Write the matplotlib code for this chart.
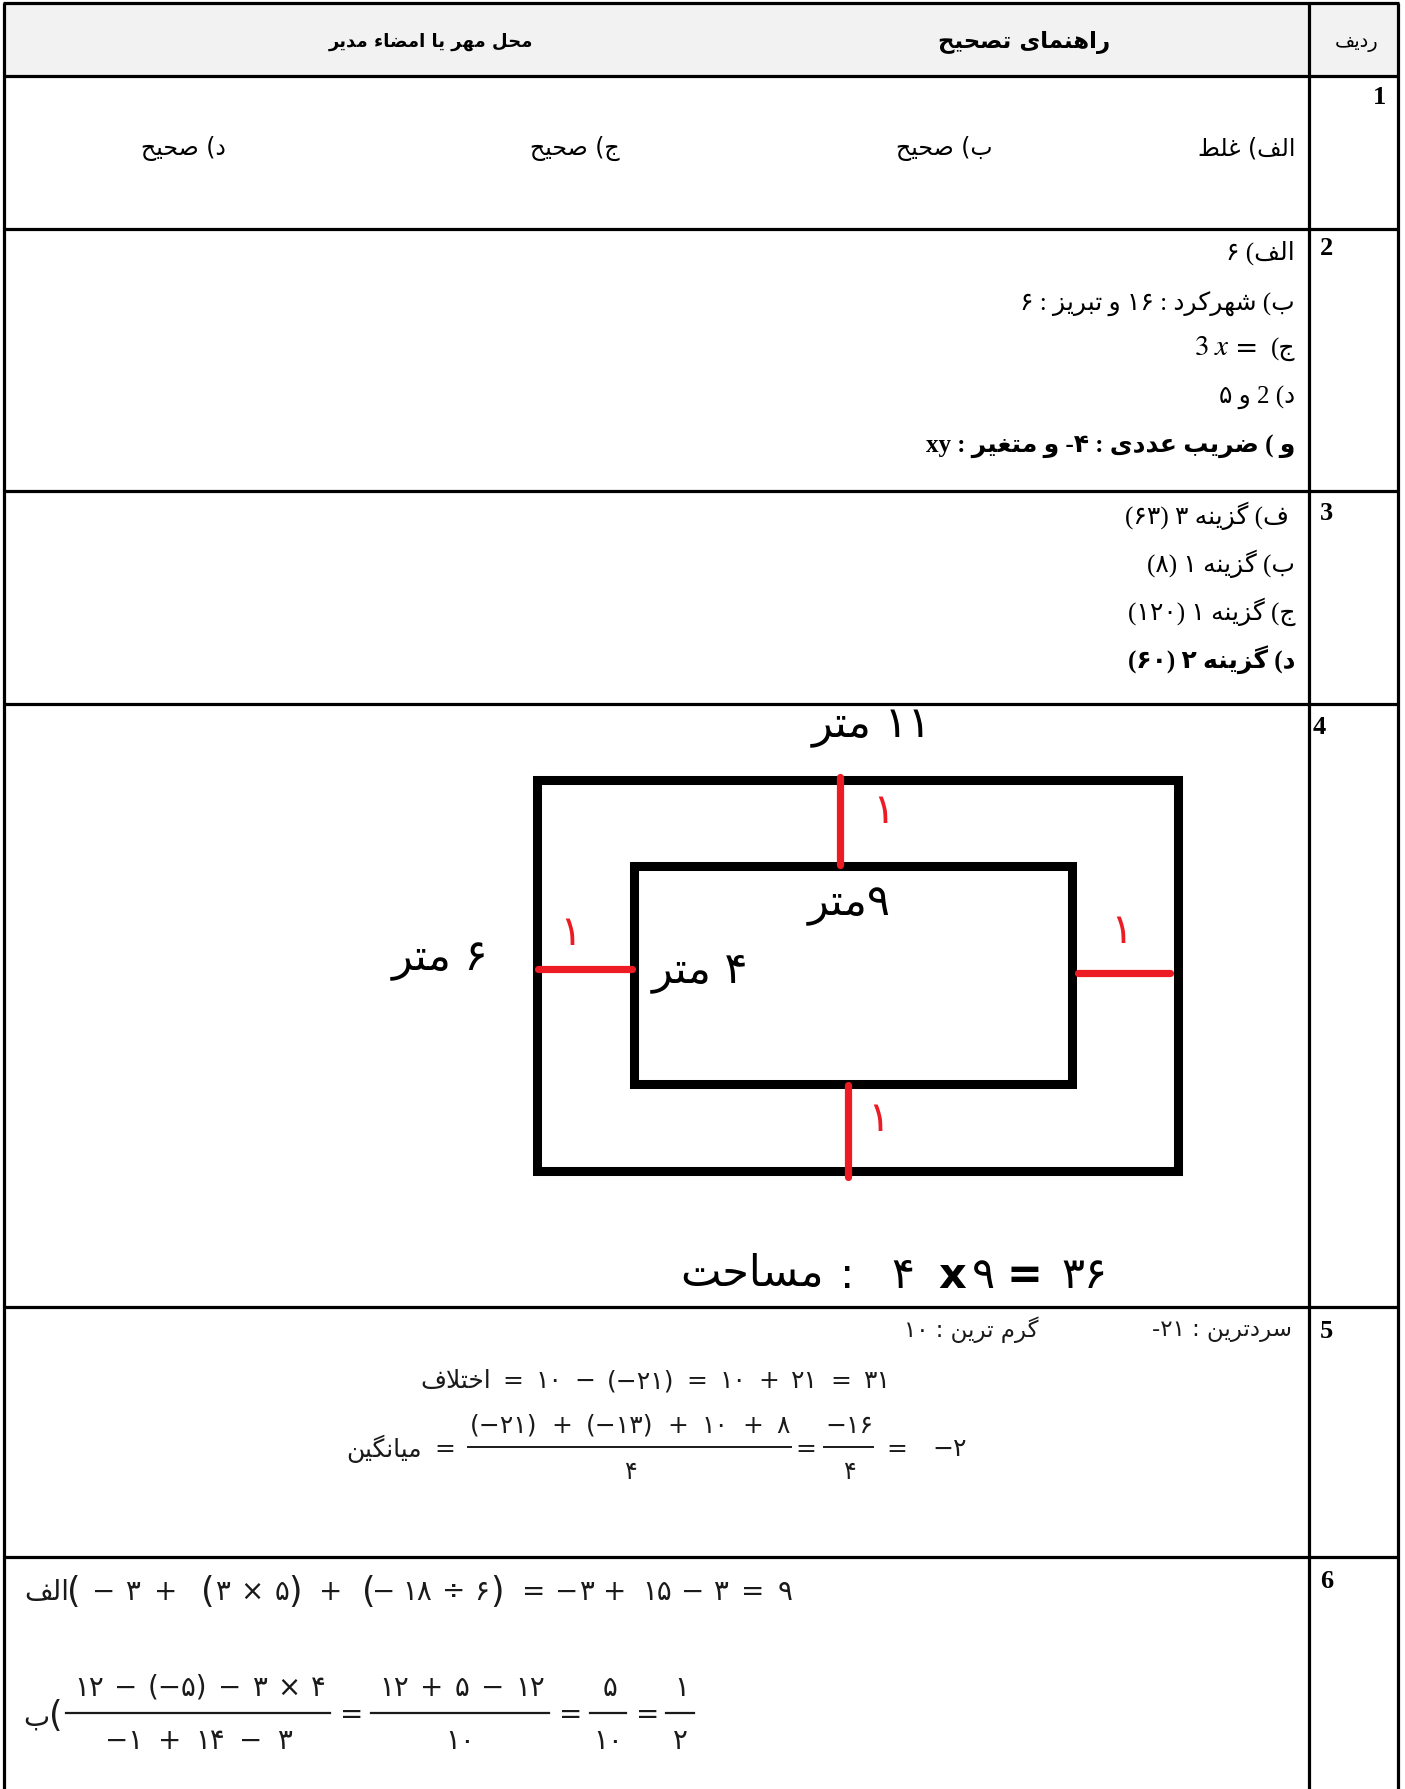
import matplotlib
matplotlib.use("Agg")
import matplotlib.pyplot as plt
from matplotlib.patches import Rectangle

# ---------------- data ----------------
header_titles = ["ردیف", "راهنمای تصحیح", "محل مهر یا امضاء مدیر"]
row_numbers = ["1", "2", "3", "4", "5", "6"]
row1_answers = ["الف) غلط", "ب) صحیح", "ج) صحیح", "د) صحیح"]
row2_lines = ["الف) ۶", "ب) شهرکرد : ۱۶ و تبریز : ۶", "ج)", "د) 2 و ۵", "و ) ضریب عددی : ۴- و متغیر : xy"]
row2_math = r"$3\;x$"
row3_lines = [" ف) گزینه ۳ (۶۳)", "ب) گزینه ۱ (۸)", "ج) گزینه ۱ (۱۲۰)", "د) گزینه ۲ (۶۰)"]
fig_labels = ["۱۱ متر", "۹متر", "۶ متر", "۴ متر"]
fig_red = ["۱", "۱", "۱", "۱"]
area_word = "مساحت"
area_tokens = [":", "۴", "x", "۹", "=", "۳۶"]
row5_line1 = ["سردترین : ۲۱-", "گرم ترین : ۱۰"]
row5_diff_word = "اختلاف"
row5_diff_tokens = ["=", "۱۰", "−", "(−۲۱)", "=", "۱۰", "+", "۲۱", "=", "۳۱"]
row5_mean_word = "میانگین"
row5_num1_tokens = ["(−۲۱)", "+", "(−۱۳)", "+", "۱۰", "+", "۸"]
row5_num2 = "−۱۶"
row5_den = ["۴", "۴"]
row5_result_tokens = ["=", "−۲"]
row6_label = ["الف", "ب"]
row6_line1_tokens = ["(", "−", "۳", "+", "(", "۳", "×", "۵", ")", "+", "(", "−", "۱۸", "÷", "۶", ")",
                     "=", "−", "۳", "+", "۱۵", "−", "۳", "=", "۹"]
row6_num_tokens = [["۱۲", "−", "(−۵)", "−", "۳", "×", "۴"], ["۱۲", "+", "۵", "−", "۱۲"], ["۵"], ["۱"]]
row6_den_tokens = [["−۱", "+", "۱۴", "−", "۳"], ["۱۰"], ["۱۰"], ["۲"]]

# ---------------- Arabic shaping helpers ----------------
FORMS = {
    '\u0621': ('\uFE80', None, None, None),
    '\u0622': ('\uFE81', '\uFE82', None, None),
    '\u0623': ('\uFE83', '\uFE84', None, None),
    '\u0627': ('\uFE8D', '\uFE8E', None, None),
    '\u0628': ('\uFE8F', '\uFE90', '\uFE91', '\uFE92'),
    '\u062A': ('\uFE95', '\uFE96', '\uFE97', '\uFE98'),
    '\u062B': ('\uFE99', '\uFE9A', '\uFE9B', '\uFE9C'),
    '\u062C': ('\uFE9D', '\uFE9E', '\uFE9F', '\uFEA0'),
    '\u062D': ('\uFEA1', '\uFEA2', '\uFEA3', '\uFEA4'),
    '\u062E': ('\uFEA5', '\uFEA6', '\uFEA7', '\uFEA8'),
    '\u062F': ('\uFEA9', '\uFEAA', None, None),
    '\u0630': ('\uFEAB', '\uFEAC', None, None),
    '\u0631': ('\uFEAD', '\uFEAE', None, None),
    '\u0632': ('\uFEAF', '\uFEB0', None, None),
    '\u0633': ('\uFEB1', '\uFEB2', '\uFEB3', '\uFEB4'),
    '\u0634': ('\uFEB5', '\uFEB6', '\uFEB7', '\uFEB8'),
    '\u0635': ('\uFEB9', '\uFEBA', '\uFEBB', '\uFEBC'),
    '\u0636': ('\uFEBD', '\uFEBE', '\uFEBF', '\uFEC0'),
    '\u0637': ('\uFEC1', '\uFEC2', '\uFEC3', '\uFEC4'),
    '\u0638': ('\uFEC5', '\uFEC6', '\uFEC7', '\uFEC8'),
    '\u0639': ('\uFEC9', '\uFECA', '\uFECB', '\uFECC'),
    '\u063A': ('\uFECD', '\uFECE', '\uFECF', '\uFED0'),
    '\u0641': ('\uFED1', '\uFED2', '\uFED3', '\uFED4'),
    '\u0642': ('\uFED5', '\uFED6', '\uFED7', '\uFED8'),
    '\u0644': ('\uFEDD', '\uFEDE', '\uFEDF', '\uFEE0'),
    '\u0645': ('\uFEE1', '\uFEE2', '\uFEE3', '\uFEE4'),
    '\u0646': ('\uFEE5', '\uFEE6', '\uFEE7', '\uFEE8'),
    '\u0647': ('\uFEE9', '\uFEEA', '\uFEEB', '\uFEEC'),
    '\u0648': ('\uFEED', '\uFEEE', None, None),
    '\u067E': ('\uFB56', '\uFB57', '\uFB58', '\uFB59'),
    '\u0686': ('\uFB7A', '\uFB7B', '\uFB7C', '\uFB7D'),
    '\u0698': ('\uFB8A', '\uFB8B', None, None),
    '\u06A9': ('\uFB8E', '\uFB8F', '\uFB90', '\uFB91'),
    '\u06AF': ('\uFB92', '\uFB93', '\uFB94', '\uFB95'),
    '\u06CC': ('\uFBFC', '\uFBFD', '\uFBFE', '\uFBFF'),
}
LAM_ALEF = {'\u0627': ('\uFEFB', '\uFEFC'), '\u0622': ('\uFEF5', '\uFEF6'),
            '\u0623': ('\uFEF7', '\uFEF8')}
MIRROR = {'(': ')', ')': '('}


def _jn(c):
    f = FORMS.get(c)
    return f is not None and f[2] is not None


def _jp(c):
    f = FORMS.get(c)
    return f is not None and f[1] is not None


def shape(s):
    ch = list(s)
    n = len(ch)
    res = []
    i = 0
    while i < n:
        c = ch[i]
        if c not in FORMS:
            res.append(c)
            i += 1
            continue
        prev = ch[i - 1] if i > 0 else None
        cp = prev is not None and _jn(prev) and _jp(c)
        if c == '\u0644' and i + 1 < n and ch[i + 1] in LAM_ALEF:
            iso, fin = LAM_ALEF[ch[i + 1]]
            res.append(fin if cp else iso)
            i += 2
            continue
        nxt = ch[i + 1] if i + 1 < n else None
        cn = nxt is not None and _jn(c) and _jp(nxt)
        f = FORMS[c]
        if cp and cn:
            g = f[3]
        elif cp:
            g = f[1]
        elif cn:
            g = f[2]
        else:
            g = f[0]
        res.append(g)
        i += 1
    return ''.join(res)


def _ltr(c):
    return (c.isascii() and c.isalnum()) or ('\u06F0' <= c <= '\u06F9')


def rtl(s):
    s = shape(s)
    runs = []
    cur = ''
    cl = None
    for c in s:
        l = _ltr(c)
        if cl is None or l == cl:
            cur += c
            cl = l
        else:
            runs.append((cur, cl))
            cur = c
            cl = l
    runs.append((cur, cl))
    out = ''
    for t, l in reversed(runs):
        if l:
            out += t
        else:
            out += ''.join(MIRROR.get(c, c) for c in reversed(t))
    return out


def ar(word):
    return shape(word)[::-1]


# ---------------- figure ----------------
W, H = 1405, 1790
fig = plt.figure(figsize=(W / 100, H / 100), dpi=100)
ax = fig.add_axes([0, 0, 1, 1])
ax.set_xlim(0, W)
ax.set_ylim(H, 0)
ax.axis('off')
renderer = fig.canvas.get_renderer()

SANS = ['DejaVu Sans']
SERIF = ['Liberation Serif', 'DejaVu Sans']


def spread(tokens, x0, x1, y, fs, **kw):
    """Lay tokens out left-to-right, evenly spaced, so they fill [x0, x1]."""
    texts = [ax.text(0, y, t, ha='left', va='center', fontsize=fs, **kw) for t in tokens]
    widths = [t.get_window_extent(renderer=renderer).width for t in texts]
    if len(tokens) == 1:
        texts[0].set_x((x0 + x1) / 2 - widths[0] / 2)
        return
    gap = (x1 - x0 - sum(widths)) / (len(tokens) - 1)
    x = x0
    for t, w in zip(texts, widths):
        t.set_x(x)
        x += w + gap


def place(tokens, centers, y, fs, paren_fs=None, **kw):
    for t, xc in zip(tokens, centers):
        size = paren_fs if (paren_fs and t in '()') else fs
        ax.text(xc, y, t, ha='center', va='center', fontsize=size, **kw)


# table frame
L, R, C = 4, 1398, 1309
rows_y = [4, 77, 230, 492, 705, 1308, 1558]
ax.add_patch(Rectangle((L, 4), R - L, 73, facecolor='#f2f2f2', edgecolor='none', zorder=0))
for y in rows_y:
    ax.plot([L - 1, R + 1], [y, y], color='black', lw=2.3, solid_capstyle='butt', zorder=3)
for x in [L, C, R]:
    ax.plot([x, x], [4, H], color='black', lw=2.3, solid_capstyle='butt', zorder=3)

# header
ax.text(1357, 42, rtl(header_titles[0]), ha='center', va='center', fontsize=14, family=SANS)
ax.text(1024, 42, rtl(header_titles[1]), ha='center', va='center', fontsize=16.5, family=SANS, fontweight='bold')
ax.text(431, 42, rtl(header_titles[2]), ha='center', va='center', fontsize=13, family=SANS, fontweight='bold')

# row numbers
num_pos = [(1386, 97, 'right'), (1320, 248, 'left'), (1320, 513, 'left'),
           (1313, 727, 'left'), (1320, 1331, 'left'), (1320, 1582, 'left')]
for lab, (x, y, ha) in zip(row_numbers, num_pos):
    ax.text(x, y, lab, ha=ha, va='center', fontsize=19, family=['Liberation Serif'], fontweight='bold')

# row 1
r1_right = [1295, 993, 620, 226]
for t, x in zip(row1_answers, r1_right):
    ax.text(x, 148, rtl(t), ha='right', va='center', fontsize=17, family=SANS)

# row 2
r2_y = [253, 304, 349, 397, 446]
for i, (t, y) in enumerate(zip(row2_lines, r2_y)):
    ax.text(1295, y, rtl(t), ha='right', va='center', fontsize=18, family=SERIF,
            fontweight='bold' if i == 4 else 'normal')
ax.text(1247, 349, '=', ha='center', va='center', fontsize=20, family=['DejaVu Serif'])
ax.text(1229, 347, row2_math, ha='right', va='center', fontsize=21, math_fontfamily='stix')

# row 3
r3_y = [516, 564, 612, 660]
for i, (t, y) in enumerate(zip(row3_lines, r3_y)):
    ax.text(1295, y, rtl(t), ha='right', va='center', fontsize=18, family=SERIF,
            fontweight='bold' if i == 3 else 'normal')

# row 4 drawing
RED = '#ed1c24'
ax.add_patch(Rectangle((537, 780.5), 1177.5 - 537, 1172 - 780.5, fill=False, edgecolor='black', lw=6.5, joinstyle='miter', zorder=2))
ax.add_patch(Rectangle((634, 866.5), 1071.5 - 634, 1084.5 - 866.5, fill=False, edgecolor='black', lw=6.5, joinstyle='miter', zorder=2))
red_segs = [((840, 840), (778, 866)), ((848, 848), (1086, 1178)),
            ((538, 632), (970, 970)), ((1078, 1170), (974, 974))]
for xs, ys in red_segs:
    ax.plot(xs, ys, color=RED, lw=5.2, solid_capstyle='round', zorder=4)
red_pos = [(884, 811), (571, 933), (1122, 931), (879, 1119)]
for t, (x, y) in zip(fig_red, red_pos):
    ax.text(x, y, rtl(t), ha='center', va='center', fontsize=30, color=RED, family=SANS)
lab_pos = [(872, 727), (849, 905), (440, 960), (700, 972)]
for t, (x, y) in zip(fig_labels, lab_pos):
    ax.text(x, y, rtl(t), ha='center', va='center', fontsize=31, family=SANS)
ax.text(752, 1274, ar(area_word), ha='center', va='center', fontsize=31, family=SANS)
area_x = [847, 903, 952, 983, 1024, 1085]
for t, xc in zip(area_tokens, area_x):
    bold = t in ('x', '=')
    ax.text(xc, 1276, t, ha='center', va='center', fontsize=31, family=SANS,
            fontweight='bold' if bold else 'normal')

# row 5
G = '#1a1a1a'
ax.text(1292, 1330, rtl(row5_line1[0]), ha='right', va='center', fontsize=16.5, family=SANS, color=G)
ax.text(1039, 1330, rtl(row5_line1[1]), ha='right', va='center', fontsize=16.5, family=SANS, color=G)
spread([ar(row5_diff_word)] + row5_diff_tokens, 420, 890, 1381, 18, family=SANS, color=G)
spread([ar(row5_mean_word), '='], 346, 455, 1449, 18, family=SANS, color=G)
ax.plot([468, 791], [1448, 1448], color=G, lw=1.4)
spread(row5_num1_tokens, 470, 790, 1426, 18, family=SANS, color=G)
ax.text(630, 1472, row5_den[0], ha='center', va='center', fontsize=17, family=SANS, color=G)
ax.text(806, 1449, '=', ha='center', va='center', fontsize=18, family=SANS, color=G)
ax.plot([824, 873], [1448, 1448], color=G, lw=1.4)
ax.text(849, 1426, row5_num2, ha='center', va='center', fontsize=18, family=SANS, color=G)
ax.text(849, 1472, row5_den[1], ha='center', va='center', fontsize=17, family=SANS, color=G)
spread(row5_result_tokens, 886, 967, 1449, 18, family=SANS, color=G)

# row 6
ax.text(24, 1592, ar(row6_label[0]), ha='left', va='center', fontsize=20, family=SANS, color=G)
row6_x = [74, 104, 132, 166, 208, 222, 252, 282, 295, 331, 369, 384, 417, 454, 482, 497,
          534, 567, 586, 615, 657, 693, 720, 753, 785]
place(row6_line1_tokens, row6_x, 1592, 20, paren_fs=25, family=SANS, color=G)

ax.text(23, 1718, ar(row6_label[1]), ha='left', va='center', fontsize=20, family=SANS, color=G)
ax.text(56, 1716, '(', ha='center', va='center', fontsize=25, family=SANS, color=G)
fr6 = [(66, 330), (371, 549), (590, 626), (666, 694)]
den_span = [(105, 292), (371, 549), (590, 626), (666, 694)]
for (x0, x1), (d0, d1), nu, de in zip(fr6, den_span, row6_num_tokens, row6_den_tokens):
    ax.plot([x0, x1], [1714, 1714], color=G, lw=1.6)
    spread(nu, x0 + 8, x1 - 4, 1688, 20, family=SANS, color=G)
    spread(de, d0, d1, 1741, 20, family=SANS, color=G)
for x in [352, 571, 648]:
    ax.text(x, 1715, '=', ha='center', va='center', fontsize=20, family=SANS, color=G)

fig.savefig('out.png', dpi=100)
